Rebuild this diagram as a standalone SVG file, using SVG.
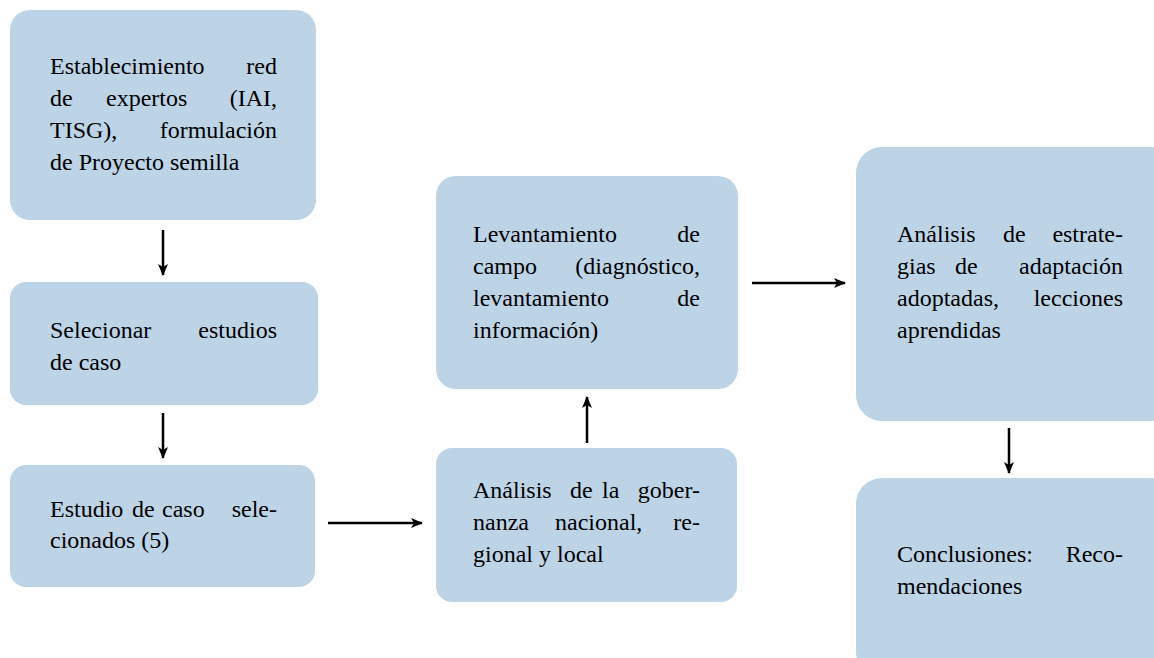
<svg xmlns="http://www.w3.org/2000/svg" width="1154" height="658" viewBox="0 0 1154 658" font-family="Liberation Serif, Times New Roman, serif" font-size="24">
<style>
.box{fill:#BDD4E7;}
.e{text-anchor:end;}
.c{stroke:#000;stroke-width:2.5;fill:none;marker-end:url(#ah);}
</style>
<defs>
<marker id="ah" markerUnits="userSpaceOnUse" markerWidth="14" markerHeight="12" refX="11" refY="5" orient="auto">
<path d="M0,0 L12,5 L0,10 L3,5 z" fill="#000"/>
</marker>
</defs>
<rect width="1154" height="658" fill="#fff"/>
<g id="n1">
<rect class="box" x="10" y="10" width="306" height="210" rx="20"/>
<text x="50" y="74">Establecimiento</text><text class="e" x="277" y="74">red</text>
<text x="50" y="106">de</text><text x="106" y="106">expertos</text><text class="e" x="277" y="106">(IAI,</text>
<text x="50" y="138">TISG),</text><text class="e" x="277" y="138">formulación</text>
<text x="50" y="170">de Proyecto semilla</text>
</g>
<g id="n2">
<rect class="box" x="10" y="282" width="308" height="123" rx="16"/>
<text x="50" y="338">Selecionar</text><text class="e" x="277" y="338">estudios</text>
<text x="50" y="370">de caso</text>
</g>
<g id="n3">
<rect class="box" x="10" y="465" width="305" height="122" rx="16"/>
<text x="50" y="517">Estudio</text><text x="132" y="517">de</text><text x="162" y="517">caso</text><text class="e" x="277" y="517">sele-</text>
<text x="50" y="548">cionados (5)</text>
</g>
<g id="n4">
<rect class="box" x="436" y="176" width="302" height="213" rx="20"/>
<text x="473" y="242">Levantamiento</text><text class="e" x="700" y="242">de</text>
<text x="473" y="274">campo</text><text class="e" x="700" y="274">(diagnóstico,</text>
<text x="473" y="306">levantamiento</text><text class="e" x="700" y="306">de</text>
<text x="473" y="338">información)</text>
</g>
<g id="n5">
<rect class="box" x="436" y="448" width="301" height="154" rx="16"/>
<text x="473" y="498">Análisis</text><text x="570" y="498">de</text><text x="602" y="498">la</text><text class="e" x="700" y="498">gober-</text>
<text x="473" y="530">nanza</text><text x="555" y="530">nacional,</text><text class="e" x="700" y="530">re-</text>
<text x="473" y="562">gional y local</text>
</g>
<g id="n6">
<rect class="box" x="856" y="147" width="320" height="274" rx="26"/>
<text x="897" y="242">Análisis</text><text x="1003" y="242">de</text><text class="e" x="1123" y="242">estrate-</text>
<text x="897" y="274">gias</text><text x="955" y="274">de</text><text class="e" x="1123" y="274">adaptación</text>
<text x="897" y="306">adoptadas,</text><text class="e" x="1123" y="306">lecciones</text>
<text x="897" y="338">aprendidas</text>
</g>
<g id="n7">
<rect class="box" x="856" y="478" width="320" height="200" rx="26"/>
<text x="897" y="562">Conclusiones:</text><text class="e" x="1123" y="562">Reco-</text>
<text x="897" y="594">mendaciones</text>
</g>
<g id="connectors">
<line class="c" x1="163" y1="230" x2="163" y2="275"/>
<line class="c" x1="163" y1="413" x2="163" y2="458"/>
<line class="c" x1="328" y1="523" x2="422" y2="523"/>
<line class="c" x1="587" y1="443" x2="587" y2="397"/>
<line class="c" x1="752" y1="283" x2="845" y2="283"/>
<line class="c" x1="1009" y1="428" x2="1009" y2="473"/>
</g>
</svg>
